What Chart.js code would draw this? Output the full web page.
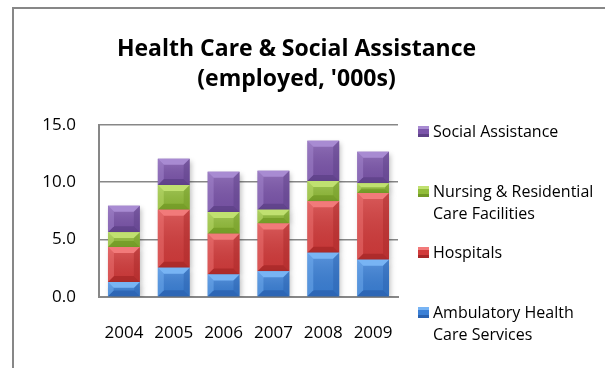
<!DOCTYPE html>
<html>
<head>
<meta charset="utf-8">
<title>Health Care &amp; Social Assistance</title>
<script src="https://cdn.jsdelivr.net/npm/chart.js@4.4.1/dist/chart.umd.min.js"></script>
<style>
  html, body { margin: 0; padding: 0; background: #fff; }
  #wrap { position: relative; width: 605px; height: 368px; overflow: hidden; font-family: 'Open Sans', sans-serif; }
  #frame { position: absolute; left: 12px; top: 7px; width: 640px; height: 420px; border: 2px solid #878787; box-sizing: border-box; }
  #chart { position: absolute; left: 0; top: 0; }
  #legend { position: absolute; left: 418px; top: 0; width: 187px; height: 368px; }
  .item { position: absolute; left: 0; font-size: 16px; line-height: 22px; color: #000; white-space: nowrap; }
  .item .swatch { position: absolute; left: 0; top: 6px; width: 11px; height: 11px; box-sizing: border-box; }
  .item .label { position: absolute; left: 15px; top: 0; }
</style>
</head>
<body>
<div id="wrap">
  <div id="frame"></div>
  <canvas id="chart" width="605" height="368"></canvas>
  <div id="legend"></div>
</div>
<script>
// ---------- 데이터 ----------
const years = ['2004', '2005', '2006', '2007', '2008', '2009'];
const ambulatory = [1.3, 2.55, 1.95, 2.25, 3.85, 3.25];
const hospitals = [3.05, 5.05, 3.55, 4.15, 4.5, 5.8];
const nursing = [1.3, 2.15, 1.9, 1.2, 1.75, 0.85];
const social = [2.3, 2.3, 3.5, 3.4, 3.5, 2.75];
const yTicks = [0, 5, 10, 15];

const seriesNames = [
  ['Ambulatory Health', 'Care Services'],
  ['Hospitals'],
  ['Nursing & Residential', 'Care Facilities'],
  ['Social Assistance'],
];

// 면 / 밝은 면 / 어두운 면
const tones = [
  { base: '#3b80d6', light: '#78b4f4', dark: '#2a62b0' },
  { base: '#d23b3b', light: '#f27a7a', dark: '#a82828' },
  { base: '#92bd3a', light: '#c0e070', dark: '#729a26' },
  { base: '#7b55aa', light: '#a88bd2', dark: '#5e4188' },
];

// 범례 항목 위치 (위에서부터)
const legendTops = [120, 180, 241, 301];

// ---------- 막대 입체 효과 ----------
const bevelPlugin = {
  id: 'bevel',
  beforeDatasetDraw(chart) {
    const ctx = chart.ctx;
    ctx.save();
    ctx.shadowColor = 'rgba(0,0,0,0.25)';
    ctx.shadowBlur = 5;
    ctx.shadowOffsetX = 2;
    ctx.shadowOffsetY = 2;
  },
  afterDatasetDraw(chart, args) {
    const ctx = chart.ctx;
    ctx.restore();
    const tone = tones[args.index];
    args.meta.data.forEach((bar) => {
      const p = bar.getProps(['x', 'y', 'base', 'width'], true);
      const l = p.x - p.width / 2, r = p.x + p.width / 2;
      const t = Math.min(p.y, p.base), b = Math.max(p.y, p.base);
      const d = Math.min(6, (b - t) / 2.5);
      if (d <= 0) return;

      // 면 그라데이션
      const g = ctx.createLinearGradient(0, t, 0, b);
      g.addColorStop(0, 'rgba(255,255,255,0.16)');
      g.addColorStop(1, 'rgba(0,0,0,0.06)');
      ctx.fillStyle = g;
      ctx.fillRect(l, t, r - l, b - t);

      const poly = (pts, fill) => {
        ctx.beginPath();
        ctx.moveTo(pts[0][0], pts[0][1]);
        for (let i = 1; i < pts.length; i++) ctx.lineTo(pts[i][0], pts[i][1]);
        ctx.closePath();
        ctx.fillStyle = fill;
        ctx.fill();
      };
      poly([[l, t], [r, t], [r - d, t + d], [l + d, t + d]], tone.light);
      ctx.globalAlpha = 0.8;
      poly([[l, b], [r, b], [r - d, b - d], [l + d, b - d]], tone.dark);
      ctx.globalAlpha = 0.45;
      poly([[l, t], [l + d, t + d], [l + d, b - d], [l, b]], tone.light);
      poly([[r, t], [r - d, t + d], [r - d, b - d], [r, b]], tone.dark);
      ctx.globalAlpha = 1;
    });
  },
};

// ---------- 차트 ----------
const seriesValues = [ambulatory, hospitals, nursing, social];
const axisFont = { family: "'Open Sans', sans-serif", size: 17 };

const chart = new Chart(document.getElementById('chart'), {
  type: 'bar',
  data: {
    labels: years,
    datasets: seriesValues.map((values, i) => ({
      label: seriesNames[i].join(' '),
      data: values,
      backgroundColor: tones[i].base,
      borderWidth: 0,
      categoryPercentage: 1,
      barPercentage: 0.64,
    })),
  },
  options: {
    responsive: false,
    animation: false,
    layout: { padding: { top: 35, right: 12, bottom: 0, left: 0 } },
    plugins: {
      legend: { display: false },
      tooltip: { enabled: false },
      title: {
        display: true,
        text: ['Health Care & Social Assistance', "(employed, '000s)"],
        color: '#000',
        font: { family: "'Open Sans', sans-serif", size: 23, weight: 'bold', lineHeight: 1.3 },
        padding: { top: 0, bottom: 30 },
      },
    },
    scales: {
      x: {
        stacked: true,
        grid: { display: false, drawTicks: false },
        border: { display: true, color: '#878787', width: 2 },
        ticks: { color: '#000', padding: 26, font: axisFont },
        afterFit: (scale) => { scale.height = 71; },
      },
      y: {
        stacked: true,
        min: 0,
        max: 15,
        afterBuildTicks: (scale) => { scale.ticks = yTicks.map((v) => ({ value: v })); },
        grid: { color: '#878787', lineWidth: 1.5, drawTicks: false },
        border: { display: true, color: '#878787', width: 2 },
        ticks: {
          color: '#000',
          padding: 23,
          font: axisFont,
          callback: (v) => Number(v).toFixed(1),
        },
        afterFit: (scale) => { scale.width = 99; },
      },
      // 범례 자리 (오른쪽 여백)
      legendSpace: {
        position: 'right',
        grid: { display: false, drawTicks: false },
        border: { display: false },
        ticks: { display: false },
        afterFit: (scale) => { scale.width = 195; },
      },
    },
  },
  plugins: [bevelPlugin],
});

// ---------- 범례 (위에서부터 역순) ----------
const legend = document.getElementById('legend');
seriesNames.map((name, i) => i).reverse().forEach((i, row) => {
  const item = document.createElement('div');
  item.className = 'item';
  item.style.top = legendTops[row] + 'px';
  const sw = document.createElement('span');
  sw.className = 'swatch';
  sw.style.background = tones[i].base;
  sw.style.borderTop = '3px solid ' + tones[i].light;
  sw.style.borderBottom = '3px solid ' + tones[i].dark;
  const label = document.createElement('span');
  label.className = 'label';
  label.innerHTML = seriesNames[i].map((s) => s.replace(/&/g, '&amp;')).join('<br>');
  item.appendChild(sw);
  item.appendChild(label);
  legend.appendChild(item);
});
</script>
</body>
</html>
